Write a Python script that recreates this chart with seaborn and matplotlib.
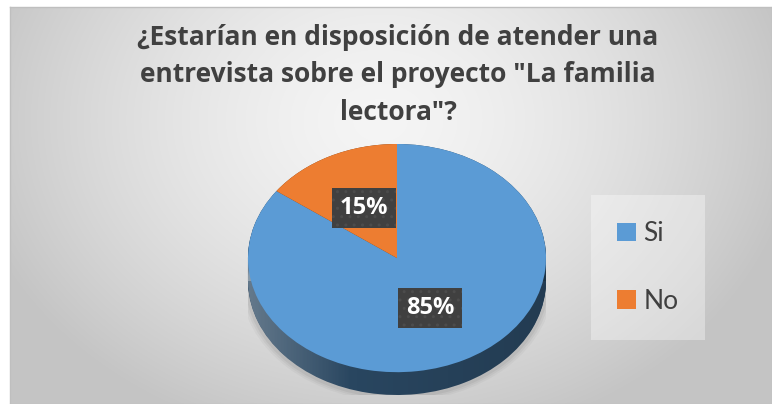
import numpy as np
import matplotlib
matplotlib.use("Agg")
import matplotlib.pyplot as plt
from matplotlib.patches import Ellipse, Rectangle
import seaborn as sns

# datos
labels = ["Si", "No"]
values = [85, 15]
colors = ["#5B9BD5", "#ED7D31"]
title = '¿Estarían en disposición de atender una\nentrevista sobre el proyecto "La familia\nlectora"?'

sns.set_theme(style="white")
plt.rcParams['font.family'] = ['Lato', 'DejaVu Sans']

W, H = 772, 404
fig = plt.figure(figsize=(W / 100, H / 100), dpi=100)
fig.patch.set_facecolor("white")

# fondo con degradado radial
bg = fig.add_axes([10 / W, 0, (W - 10) / W, (H - 7) / H])
yy, xx = np.mgrid[7:H, 10:W]
r = np.sqrt(((xx - 380) / 420) ** 2 + ((yy - 120) / 330) ** 2)
shade = np.clip(0.96 - 0.19 * r ** 1.5, 0.77, 1)
bg.imshow(np.dstack([shade] * 3), aspect="auto", extent=(0, 1, 0, 1))
bg.set_xlim(0, 1)
bg.set_ylim(0, 1)
bg.set_xticks([])
bg.set_yticks([])
for s in bg.spines.values():
    s.set_color("#bfbfbf")
    s.set_linewidth(1)

fig.text(398 / W, 1 - 75 / H, title, ha="center", va="center", fontsize=19,
         fontweight="bold", color="#404040", linespacing=1.5,
         family=["Open Sans", "DejaVu Sans"])

# pastel 3D
depth = 0.2
ax = fig.add_axes([248 / W, 9 / H, 298 / W, 251 / H])
ax.patch.set_alpha(0)

# sombra suave
for k, a in zip([1.05, 1.035, 1.02], [0.03, 0.04, 0.05]):
    ax.add_patch(Ellipse((0, -depth - 0.01), 2 * k, 2 * k, color="black", alpha=a, lw=0, zorder=0.5))

dark = [tuple(np.array(matplotlib.colors.to_rgb(c)) * 0.45) for c in colors]
for d in np.linspace(depth, 0, 25):
    ax.pie(values, colors=dark, startangle=90, counterclock=False, center=(0, -d),
           radius=1, wedgeprops=dict(linewidth=0, zorder=1))

# brillo lateral
gx = np.linspace(0, 1, 300)
alpha_w = np.clip(0.28 * (1 - gx / 0.35), 0, None)
alpha_b = np.clip(0.15 * (gx - 0.35) / 0.65, 0, None)
grad = np.zeros((2, 300, 4))
grad[..., 0:3] = np.where((alpha_w > 0)[:, None], 1.0, 0.0)
grad[..., 3] = alpha_w + alpha_b
for clip in [Ellipse((0, -depth), 2, 2, transform=ax.transData),
             Rectangle((-1, -depth), 2, depth, transform=ax.transData)]:
    im = ax.imshow(grad, extent=(-1, 1, -1 - depth, 0), aspect="auto", zorder=2)
    im.set_clip_path(clip)

wedges, texts, autotexts = ax.pie(
    values, colors=colors, startangle=90, counterclock=False, radius=1,
    autopct="%1.0f%%", pctdistance=0.49,
    wedgeprops=dict(linewidth=0, zorder=3),
    textprops=dict(color="white", fontsize=17, fontweight="bold",
                   family=["Open Sans", "DejaVu Sans"]))
for t in autotexts:
    t.set_zorder(5)
    t.set_bbox(dict(boxstyle="square,pad=0.34", facecolor="#404040",
                    edgecolor="#4c4c4c", hatch="..", linewidth=0))

ax.set_aspect("auto")
ax.set_xlim(-1, 1)
ax.set_ylim(-1 - depth, 1)
ax.axis("off")

leg = fig.legend(wedges, labels, loc="center", bbox_to_anchor=(648 / W, 1 - 267.5 / H),
                 fontsize=19, frameon=True, fancybox=False, facecolor="white",
                 edgecolor="none", framealpha=0.35, borderpad=1.0, labelspacing=1.6,
                 handlelength=0.7, handleheight=0.7, handletextpad=0.3)
for t in leg.get_texts():
    t.set_color("#404040")

fig.savefig("out.png", dpi=100)
